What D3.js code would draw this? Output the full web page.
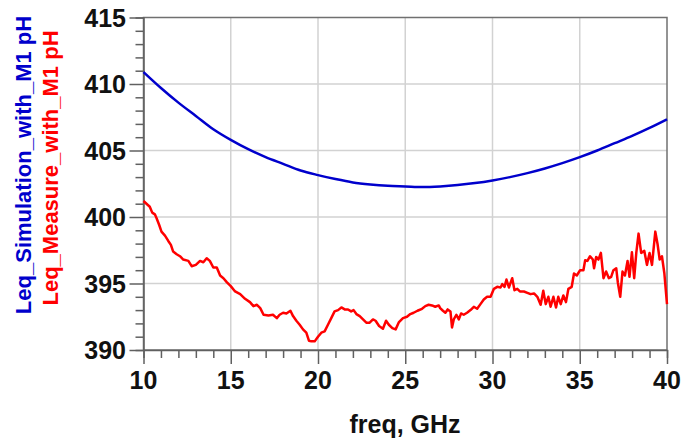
<!DOCTYPE html>
<html lang="en">
<head>
  <meta charset="UTF-8">
  <title>Leq vs freq</title>
  <script src="https://d3js.org/d3.v7.min.js"></script>
  <style>
    body { margin: 0; background: #fff; }
    text { font-family: "Liberation Sans", Arial, sans-serif; font-weight: bold; }
  </style>
</head>
<body>
<svg id="chart"></svg>
<script>
  // simulated Leq (pH), read every 1 GHz
  var simFreq = [10, 11, 12, 13, 14, 15, 16, 17, 18, 19, 20, 21, 22, 23, 24, 25,
                 26, 27, 28, 29, 30, 31, 32, 33, 34, 35, 36, 37, 38, 39, 40];
  var simLeq = [410.9, 409.7, 408.6, 407.6, 406.6, 405.8, 405.1, 404.5, 404.0, 403.5,
                403.15, 402.85, 402.6, 402.45, 402.35, 402.3, 402.25, 402.3, 402.4, 402.55,
                402.75, 403.0, 403.3, 403.65, 404.05, 404.5, 405.0, 405.55, 406.1, 406.7, 407.35];

  var measFreq = [10, 10.17, 10.36, 10.5, 10.65, 10.75, 10.9, 11.03, 11.23, 11.42, 11.57, 11.7,
    11.9, 12.09, 12.28, 12.57, 12.76, 13.0, 13.24, 13.43, 13.62, 13.8, 14.0, 14.2, 14.39, 14.58,
    14.77, 15.0, 15.25, 15.54, 15.82, 16.1, 16.3, 16.5, 16.69, 16.88, 17.16,
    17.42, 17.64, 17.8, 18.0, 18.19, 18.42, 18.57, 18.76, 18.95, 19.14, 19.33, 19.48, 19.62,
    19.81, 20.0, 20.19, 20.38, 20.57, 20.76, 20.95, 21.15, 21.34, 21.53, 21.72, 21.9, 22.04,
    22.2, 22.39, 22.58, 22.77, 22.96, 23.15, 23.3, 23.5, 23.72, 23.9, 24.06, 24.26, 24.45,
    24.64, 24.87,
    25.1, 25.29, 25.48, 25.7, 25.96, 26.15, 26.34, 26.53, 26.72, 26.92, 27.0, 27.16, 27.3,
    27.43, 27.59, 27.68, 27.78, 27.93, 28.07, 28.2, 28.35, 28.54, 28.74, 28.93, 29.12, 29.31,
    29.5, 29.69, 29.89, 30.08, 30.27, 30.46, 30.56, 30.69, 30.8, 30.94, 31.13, 31.26, 31.42,
    31.57, 31.8, 32.0, 32.18, 32.38, 32.57,
    32.76, 32.91, 33.05, 33.2, 33.33, 33.49, 33.64, 33.77, 33.91, 34.06, 34.21, 34.35, 34.54,
    34.67, 34.83, 35.02, 35.21, 35.31, 35.44, 35.59, 35.75, 35.82, 35.94, 36.07, 36.21, 36.36,
    36.51, 36.67, 36.8, 36.93, 37.09, 37.18, 37.32, 37.45, 37.59, 37.74, 37.85, 37.99, 38.12,
    38.24, 38.37, 38.52, 38.7, 38.85, 39.0, 39.14, 39.33, 39.46, 39.58, 39.71, 39.85, 40.0];
  var measLeq = [401.2, 401.0, 400.77, 400.33, 400.2, 399.9, 399.4, 398.9, 398.6, 398.2, 397.9, 397.4,
    397.2, 397.05, 396.8, 396.7, 396.3, 396.4, 396.7, 396.6, 396.9, 396.7, 396.2, 396.2, 395.6, 395.4,
    395.1, 394.8, 394.4, 394.2, 393.85, 393.6, 393.3, 393.4, 393.15, 392.65, 392.6,
    392.65, 392.4, 392.65, 392.8, 392.75, 392.95, 392.55, 392.2, 391.9, 391.55, 391.3, 390.7, 390.65,
    390.65, 391.0, 391.3, 391.4, 391.9, 392.4, 392.9, 393.0, 393.2, 393.05, 393.05, 392.9, 393.0,
    392.7, 392.55, 392.3, 392.05, 392.05, 392.3, 392.2, 391.8, 391.6, 392.2, 391.9, 391.65, 391.55,
    392.1, 392.4,
    392.5, 392.7, 392.8, 392.95, 393.1, 393.3, 393.4, 393.35, 393.25, 393.35, 393.15, 392.95, 392.8,
    393.05, 392.9, 391.7, 392.3, 392.65, 392.3, 392.75, 392.65, 392.8, 393.0, 393.25, 393.1, 393.45,
    393.8, 394.0, 394.0, 394.6, 394.75, 394.7, 394.95, 394.75, 395.3, 394.7, 395.4, 394.5, 394.6,
    394.4, 394.4, 394.3, 394.2, 394.25, 394.0,
    393.4, 394.45, 393.45, 394.0, 393.25, 394.0, 393.2, 394.0, 393.45, 394.1, 393.6, 394.6, 394.75,
    395.75, 395.6, 396.0, 396.0, 396.75, 396.7, 397.05, 396.8, 396.15, 397.0, 396.8, 397.3, 395.4,
    395.9, 395.4, 395.5, 396.0, 396.15, 395.1, 394.0, 395.9, 395.6, 396.7, 395.5, 397.35, 395.4,
    397.3, 398.75, 397.3, 397.45, 396.4, 397.3, 396.4, 398.9, 397.95, 396.8, 397.05, 395.75, 393.45];

  var xTicks = [10, 15, 20, 25, 30, 35, 40];
  var yTicks = [390, 395, 400, 405, 410, 415];
  var xLabel = "freq, GHz";
  var simLabel = "Leq_Simulation_with_M1 pH";
  var measLabel = "Leq_Measure_with_M1 pH";

  var width = 682, height = 443;
  var plotL = 143.5, plotR = 667, plotT = 17.5, plotB = 350;

  var svg = d3.select("#chart").attr("width", width).attr("height", height);

  var x = d3.scaleLinear().domain([10, 40]).range([plotL, plotR]);
  var y = d3.scaleLinear().domain([390, 415]).range([plotB, plotT]);

  // grid
  svg.append("g").selectAll("line").data(xTicks.slice(1, -1)).enter().append("line")
    .attr("x1", d => x(d)).attr("x2", d => x(d)).attr("y1", plotT).attr("y2", plotB)
    .attr("stroke", "#d2d2d2").attr("stroke-width", 1.5);
  svg.append("g").selectAll("line").data(yTicks.slice(1, -1)).enter().append("line")
    .attr("y1", d => y(d)).attr("y2", d => y(d)).attr("x1", plotL).attr("x2", plotR)
    .attr("stroke", "#d2d2d2").attr("stroke-width", 1.5);

  // frame
  svg.append("rect").attr("x", plotL).attr("y", plotT)
    .attr("width", plotR - plotL).attr("height", plotB - plotT)
    .attr("fill", "none").attr("stroke", "#707070").attr("stroke-width", 1.5);

  // axes
  var xAxis = d3.axisBottom(x).tickValues(d3.range(10, 41, 1))
    .tickSize(8).tickFormat("");
  var gx = svg.append("g").attr("transform", "translate(0," + plotB + ")").call(xAxis);
  gx.selectAll(".tick line").filter(d => d % 5 === 0).attr("y2", 14);

  var yAxis = d3.axisLeft(y).tickValues(d3.range(390, 416, 1))
    .tickSize(8).tickFormat("");
  var gy = svg.append("g").attr("transform", "translate(" + plotL + ",0)").call(yAxis);
  gy.selectAll(".tick line").filter(d => d % 5 === 0).attr("x2", -14);

  [gx, gy].forEach(g => {
    g.select(".domain").attr("stroke", "#606060").attr("stroke-width", 1.5);
    g.selectAll(".tick line").attr("stroke", "#606060").attr("stroke-width", 1.5);
  });

  svg.append("g").selectAll("text").data(xTicks).enter().append("text")
    .attr("x", d => x(d)).attr("y", 389)
    .attr("text-anchor", "middle").attr("font-size", 25).attr("fill", "#111")
    .text(d => d);

  svg.append("g").selectAll("text").data(yTicks).enter().append("text")
    .attr("x", 126).attr("y", d => y(d) + 9)
    .attr("text-anchor", "end").attr("font-size", 25).attr("fill", "#111")
    .text(d => d);

  svg.append("text").attr("x", 405).attr("y", 433)
    .attr("text-anchor", "middle").attr("font-size", 25).attr("fill", "#111")
    .text(xLabel);

  svg.append("text").attr("transform", "translate(31,165) rotate(-90)")
    .attr("text-anchor", "middle").attr("font-size", 22).attr("fill", "#0000cc")
    .text(simLabel);
  svg.append("text").attr("transform", "translate(58,168) rotate(-90)")
    .attr("text-anchor", "middle").attr("font-size", 22).attr("fill", "#ff0000")
    .text(measLabel);

  // curves
  var line = d3.line().x(d => x(d[0])).y(d => y(d[1]));
  svg.append("path").datum(d3.zip(simFreq, simLeq))
    .attr("d", line.curve(d3.curveMonotoneX)).attr("fill", "none")
    .attr("stroke", "#0000cc").attr("stroke-width", 2.5);
  svg.append("path").datum(d3.zip(measFreq, measLeq))
    .attr("d", line.curve(d3.curveLinear)).attr("fill", "none")
    .attr("stroke", "#ff0000").attr("stroke-width", 2.5).attr("stroke-linejoin", "round");
</script>
</body>
</html>
